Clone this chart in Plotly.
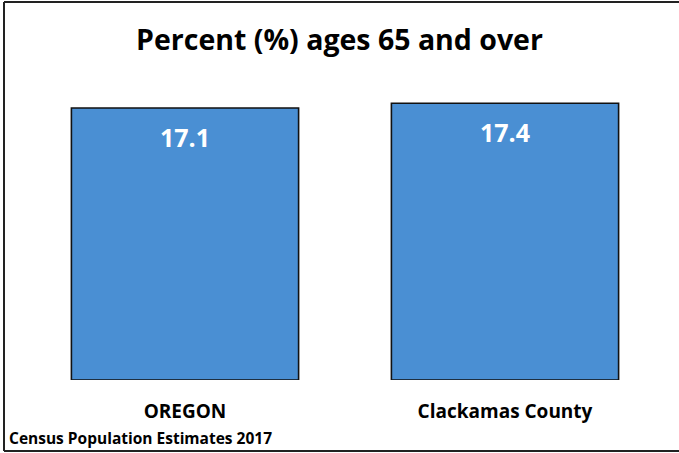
import plotly.graph_objects as go

categories = ["OREGON", "Clackamas County"]
values = [17.1, 17.4]
title = "Percent (%) ages 65 and over"
source = "Census Population Estimates 2017"

W, H = 679, 453
L, R, T, B = 25, 14, 80, 73
FONT = "Open Sans"

fig = go.Figure(
    go.Bar(
        x=categories,
        y=values,
        width=0.71,
        marker=dict(color="#4a8fd3", line=dict(color="#111111", width=1.6)),
        hoverinfo="skip",
    )
)

# value labels in the upper part of each bar
for c, v in zip(categories, values):
    fig.add_annotation(
        x=c, y=v, yshift=-29, text=f"<b>{v}</b>", showarrow=False,
        font=dict(family=FONT, size=25, color="white"), yanchor="middle",
    )

pw, ph = W - L - R, H - T - B
px = lambda p: (p - L) / pw
py = lambda p: (H - B - p) / ph

fig.add_annotation(
    xref="paper", yref="paper", x=px(7), y=py(438),
    text=f"<b>{source}</b>", showarrow=False, xanchor="left", yanchor="middle",
    font=dict(family=FONT, size=15.5, color="black"),
)

# outer frame (top, left, bottom)
frame = dict(color="#222222", width=2)
fig.add_shape(type="line", xref="paper", yref="paper", x0=px(4), x1=px(700), y0=py(2), y1=py(2), line=frame)
fig.add_shape(type="line", xref="paper", yref="paper", x0=px(4), x1=px(4), y0=py(2), y1=py(451), line=frame)
fig.add_shape(type="line", xref="paper", yref="paper", x0=px(4), x1=px(700), y0=py(451), y1=py(451), line=frame)

fig.update_layout(
    width=W,
    height=H,
    margin=dict(l=L, r=R, t=T, b=B, pad=0),
    paper_bgcolor="white",
    plot_bgcolor="white",
    showlegend=False,
    title=dict(
        text=f"<b>{title}</b>", x=0.5, xanchor="center", y=1 - 40 / H, yanchor="middle",
        font=dict(family=FONT, size=28.5, color="black"),
    ),
    xaxis=dict(
        showline=False, showgrid=False, zeroline=False,
        ticks="outside", ticklen=14, tickcolor="rgba(0,0,0,0)",
        tickfont=dict(family=FONT, size=19, color="black"),
        tickprefix="<b>", ticksuffix="</b>",
    ),
    yaxis=dict(range=[0, ph / 15.906], visible=False),
)

fig.write_html(
    "out.html",
    config={"displayModeBar": False},
    post_script="document.body.style.margin='0';",
)
